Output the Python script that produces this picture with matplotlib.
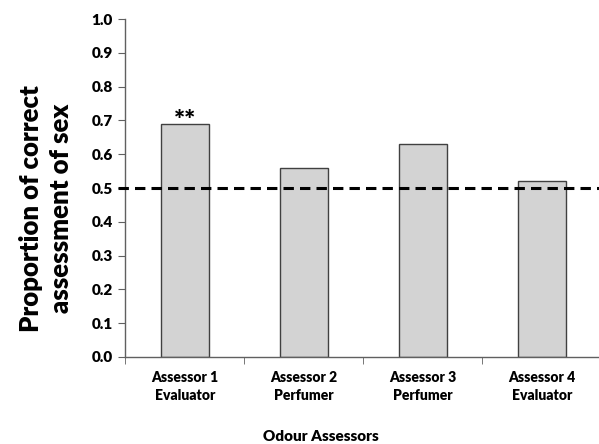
import matplotlib
matplotlib.use('Agg')
import matplotlib.pyplot as plt

# data
assessors = ['Assessor 1\nEvaluator', 'Assessor 2\nPerfumer',
             'Assessor 3\nPerfumer', 'Assessor 4\nEvaluator']
proportions = [0.69, 0.56, 0.63, 0.52]
significance = ['**', '', '', '']
chance_level = 0.5
yticks = [0.0, 0.1, 0.2, 0.3, 0.4, 0.5, 0.6, 0.7, 0.8, 0.9, 1.0]

plt.rcParams['font.family'] = ['Lato', 'DejaVu Sans']
plt.rcParams['font.weight'] = 'heavy'

fig = plt.figure(figsize=(5.99, 4.44), dpi=100)
ax = fig.add_axes([0.209, 0.196, 0.795, 0.761])

x = range(len(assessors))
ax.bar(x, proportions, width=0.4, color='#d3d3d3', edgecolor='#404040',
       linewidth=1.0, zorder=2)
# chance line pokes a little past the y axis, as in the original
ax.plot([-0.56, len(assessors) - 0.5], [chance_level] * 2, color='black',
        linewidth=2.2, dashes=(3.4, 2.0), zorder=3, clip_on=False)

for xi, val, s in zip(x, proportions, significance):
    if s:
        ax.text(xi, val + 0.008, s, ha='center', va='center', fontsize=19,
                fontweight='heavy')

ax.set_xlim(-0.5, len(assessors) - 0.5)
ax.set_ylim(0, 1.0)
ax.set_yticks(yticks)
ax.set_yticklabels([f'{v:.1f}' for v in yticks], fontsize=11, fontweight='heavy')
ax.set_xticks(list(x))
ax.set_xticklabels(assessors, fontsize=10, fontweight='heavy', linespacing=1.45)
ax.set_xticks([i - 0.5 for i in range(len(assessors) + 1)], minor=True)
ax.tick_params(axis='x', which='major', length=0, pad=10)
ax.tick_params(axis='x', which='minor', length=5, direction='out', color='#606060')
ax.tick_params(axis='y', length=5, direction='out', color='#606060', pad=4)

for side in ['top', 'right']:
    ax.spines[side].set_visible(False)
for side in ['left', 'bottom']:
    ax.spines[side].set_color('#606060')
    ax.spines[side].set_linewidth(1.0)

ax.set_ylabel('Proportion of correct\nassessment of sex', fontsize=18.5,
              fontweight='heavy', linespacing=1.3)
ax.yaxis.set_label_coords(-0.11, 0.44)
ax.set_xlabel('Odour Assessors', fontsize=11, fontweight='heavy')
ax.xaxis.set_label_coords(0.41, -0.215)

fig.savefig('out.png', dpi=100)
